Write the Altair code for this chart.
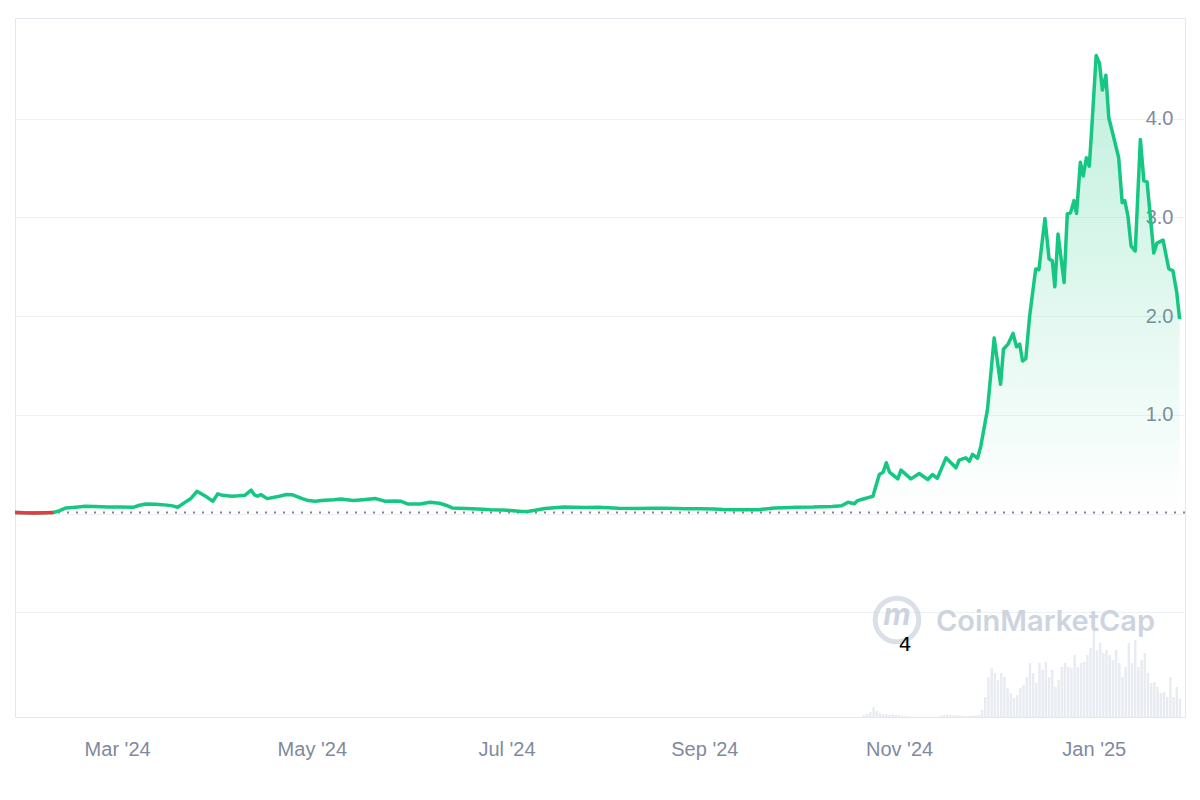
import altair as alt
import pandas as pd

START = pd.Timestamp("2024-01-29")
BASE = 0.012  # opening price of the period (dotted reference line)

# price series: day offset from START, price in USD
day = [0, 3, 6, 9, 12, 14, 16, 19, 22, 25, 29, 33, 37, 39, 41, 44, 46, 49, 51, 53,
       55, 57, 60, 62, 63.5, 65, 68, 70, 72, 74, 75, 76, 77, 79, 82, 85, 87, 90, 92, 94,
       97, 100, 102, 104, 106, 109, 113, 116, 119, 121, 123, 127, 130, 133, 135, 137, 141, 145, 149, 153,
       156, 159, 161, 163, 166, 169, 172, 175, 179, 183, 186, 189, 195, 200, 204, 210, 215, 219, 222, 225,
       229, 233, 236, 238, 241, 245, 250, 253, 256, 259, 261, 263, 264, 266, 267, 268.8, 270.8, 272, 273, 274,
       276.6, 277.6, 280.7, 283.3, 286, 287.5, 289, 291.7, 294.8, 295.8, 297.9, 299, 300, 301.6, 302.6, 304.7, 306.8, 308.8, 309.7, 311.2,
       312.7, 313.8, 314.8, 315.7, 316.7, 317.9, 319.8, 320.8, 322.7, 324, 325, 325.8, 326.8, 328.7, 329.7, 330.7, 331.8, 332.6, 333.8, 334.7,
       335.7, 336.6, 337.5, 338.75, 339.8, 340.7, 341.8, 342.7, 344.1, 345.8, 346.9, 347.7, 348.7, 349.7, 351, 352.6, 353.7, 354.7, 356.8, 357.8,
       359.7, 361.5, 362.8, 364, 364.9]
price = [0.012, 0.008, 0.007, 0.009, 0.011, 0.03, 0.058, 0.065, 0.074, 0.072, 0.068, 0.066, 0.064, 0.085, 0.098, 0.094, 0.091, 0.081, 0.064, 0.109,
         0.15, 0.226, 0.17, 0.125, 0.2, 0.185, 0.176, 0.18, 0.186, 0.237, 0.19, 0.176, 0.193, 0.152, 0.17, 0.193, 0.19, 0.152, 0.132, 0.125,
         0.135, 0.14, 0.149, 0.14, 0.132, 0.14, 0.152, 0.125, 0.128, 0.125, 0.098, 0.098, 0.115, 0.105, 0.085, 0.058, 0.052, 0.048, 0.04, 0.036,
         0.03, 0.022, 0.025, 0.035, 0.051, 0.06, 0.068, 0.065, 0.061, 0.064, 0.06, 0.054, 0.052, 0.055, 0.054, 0.05, 0.05, 0.048, 0.042, 0.04,
         0.04, 0.04, 0.05, 0.058, 0.06, 0.064, 0.066, 0.07, 0.071, 0.08, 0.115, 0.10, 0.132, 0.15, 0.159, 0.176, 0.396, 0.42, 0.515, 0.42,
         0.352, 0.44, 0.352, 0.406, 0.345, 0.396, 0.358, 0.565, 0.464, 0.541, 0.565, 0.531, 0.6, 0.561, 0.683, 1.056, 1.78, 1.31, 1.665, 1.72,
         1.825, 1.69, 1.716, 1.546, 1.57, 2.0, 2.477, 2.47, 2.99, 2.579, 2.562, 2.298, 2.833, 2.342, 3.036, 3.046, 3.17, 3.04, 3.56, 3.42,
         3.605, 3.52, 3.97, 4.64, 4.56, 4.29, 4.44, 4.01, 3.83, 3.605, 3.15, 3.17, 3.015, 2.71, 2.66, 3.79, 3.37, 3.36, 2.64, 2.74,
         2.77, 2.48, 2.46, 2.24, 1.97]

# daily volume (relative units) for the days where it is visible
vol_first_day = 266
volume = [20, 30, 50, 100, 60, 40, 30, 30, 20, 30, 20, 20, 10, 10,
          3, 3, 3, 3, 3, 3, 3, 3, 3, 3,
          15, 20, 25, 20, 15, 20, 15, 10, 10,
          10, 15, 15,
          20, 70, 200, 400, 490, 440, 370, 440, 400, 290, 240, 190, 220, 290, 320, 400, 540, 440, 340, 540,
          470, 550, 400, 470, 300, 370, 500, 540, 500, 490, 620, 500, 540, 550, 620, 690, 870, 670, 740, 640,
          670, 620, 570, 670, 540, 400, 500, 740, 540, 770, 500, 570, 640, 440, 340, 350, 300, 240, 250, 200,
          400, 200,
          300, 180]

x_ticks = ["2024-03-01", "2024-05-01", "2024-07-01", "2024-09-01", "2024-11-01", "2025-01-01"]
y_ticks = [-1, 0, 1, 2, 3, 4]

FMT = "%Y-%m-%dT%H:%M:%S"
df = pd.DataFrame({
    "date": (START + pd.to_timedelta(day, unit="D")).strftime(FMT),
    "price": price,
})
df_red = df[df["price"] <= BASE]
vdf = pd.DataFrame({
    "date": (START + pd.to_timedelta([vol_first_day + i for i in range(len(volume))], unit="D")).strftime(FMT),
    "volume": volume,
})


def dt(s):
    t = pd.Timestamp(s)
    return alt.DateTime(year=t.year, month=t.month, date=t.day, hours=t.hour)


GRAY = "#808a9d"
FONT = "Liberation Sans"

x_scale = alt.Scale(domain=[dt("2024-01-29"), dt("2025-01-29 14:00")], nice=False, padding=0)
x_axis = alt.Axis(values=[dt(v) for v in x_ticks], format="%b '%y", grid=False, domain=False,
                  ticks=False, labelPadding=22, labelFontSize=20, labelColor=GRAY, labelFont=FONT,
                  title=None, labelFlush=False)
x_enc = alt.X("date:T", scale=x_scale, axis=x_axis)

y_scale = alt.Scale(domain=[-2.06, 5.02], nice=False, zero=False)
y_axis = alt.Axis(orient="right", values=y_ticks,
                  labelExpr="datum.value >= 1 ? format(datum.value, '.1f') : ''",
                  labelAlign="right", labelPadding=-12, ticks=False, tickSize=0, domain=False,
                  grid=True, gridColor="#eef1f4", gridWidth=1,
                  labelFontSize=20, labelColor=GRAY, labelFont=FONT, title=None)
y_enc = alt.Y("price:Q", scale=y_scale, axis=y_axis)

bars = alt.Chart(vdf).mark_bar(size=2.5, color="#e8ecf2").encode(
    x=x_enc,
    y=alt.Y("volume:Q", scale=alt.Scale(domain=[0, 6990]), axis=None),
)

gradient = alt.Gradient(
    gradient="linear",
    stops=[alt.GradientStop(color="rgba(22,199,132,0)", offset=0),
           alt.GradientStop(color="rgba(22,199,132,0.28)", offset=1)],
    x1=1, x2=1, y1=1, y2=0,
)

wm = pd.DataFrame({"t": ["CoinMarketCap"], "m": ["m"], "four": ["4"]})
wm_text = alt.Chart(wm).mark_text(font="Inter", fontSize=29, fontWeight=600, color="#cdd4df",
                                  align="left", baseline="middle").encode(
    text="t:N", x=alt.value(921), y=alt.value(604))
wm_circle = alt.Chart(wm).mark_point(shape="circle", size=1900, filled=False, strokeWidth=5,
                                     color="#cdd4df").encode(x=alt.value(882), y=alt.value(602))
wm_m = alt.Chart(wm).mark_text(font="Inter", fontSize=30, fontWeight=700, fontStyle="italic",
                               color="#cdd4df", align="center", baseline="middle").encode(
    text="m:N", x=alt.value(882), y=alt.value(598))

area = alt.Chart(df).mark_area(color=gradient, interpolate="linear").encode(
    x=x_enc, y=y_enc, y2=alt.datum(BASE))
line = alt.Chart(df).mark_line(color="#16c784", strokeWidth=3.5, strokeJoin="round").encode(
    x=x_enc, y=y_enc)
red = alt.Chart(df_red).mark_line(color="#ea3943", strokeWidth=3.5, strokeJoin="round").encode(
    x=x_enc, y=y_enc)
rule = alt.Chart(pd.DataFrame({"b": [BASE]})).mark_rule(
    color="#7f8794", strokeWidth=2, strokeDash=[2, 7]).encode(y=alt.Y("b:Q", scale=y_scale, axis=y_axis))
four = alt.Chart(wm).mark_text(font="DejaVu Sans", fontSize=20, color="#000000",
                               align="center", baseline="middle").encode(
    text="four:N", x=alt.value(890), y=alt.value(627))

price_layers = alt.layer(area, rule, line, red)

chart = alt.layer(bars, wm_circle, wm_m, wm_text, price_layers, four).resolve_scale(
    y="independent"
).properties(
    width=1170, height=699,
    padding={"left": 15, "top": 18, "right": 15, "bottom": 83},
    autosize=alt.AutoSizeParams(type="none"),
    background="#ffffff",
).configure_view(stroke="#e4e8ee", strokeWidth=1)

chart.save("out.html", embed_options={"renderer": "svg", "actions": False})
